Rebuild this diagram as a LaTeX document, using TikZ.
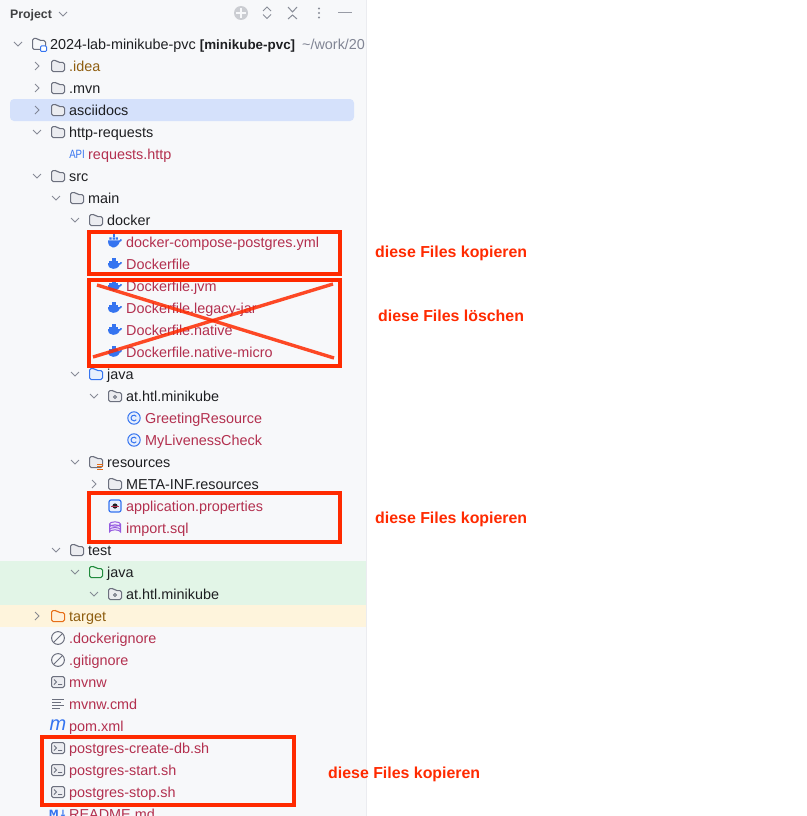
\documentclass[tikz,border=0pt]{standalone}
\usepackage{fontspec}
\setmainfont{Liberation Sans}
\newfontfamily\symfont{DejaVu Sans}
\usetikzlibrary{positioning}
\definecolor{panelbg}{HTML}{F7F8FA}
\definecolor{panelline}{HTML}{EBECF0}
\definecolor{selectbg}{HTML}{D5E1FB}
\definecolor{testbg}{HTML}{E2F5E7}
\definecolor{targetbg}{HTML}{FEF4DC}
\definecolor{plaintext}{HTML}{1E1F22}
\definecolor{filetext}{HTML}{B3304F}
\definecolor{ignoredtext}{HTML}{8F5E10}
\definecolor{dimtext}{HTML}{818594}
\definecolor{iconline}{HTML}{6C707E}
\definecolor{iconfill}{HTML}{EBECF0}
\definecolor{iconblue}{HTML}{3574F0}
\definecolor{iconbluefill}{HTML}{E7EFFD}
\definecolor{icongreen}{HTML}{208A3C}
\definecolor{icongreenfill}{HTML}{E6F7E9}
\definecolor{iconorange}{HTML}{E66D17}
\definecolor{iconorangefill}{HTML}{FFF0DA}
\definecolor{iconpurple}{HTML}{955AE0}
\definecolor{markred}{HTML}{FF2A00}
\tikzset{
    dirname/.style={anchor=west, inner sep=0pt, text height=9.5pt, text depth=3pt, yshift=-2.1pt,
        text=plaintext, font=\fontsize{14.4}{16}\selectfont},
    filename/.style={dirname, text=filetext},
    ignoredname/.style={dirname, text=ignoredtext},
    marklabel/.style={anchor=west, inner sep=0pt, yshift=-2pt, text=markred,
        font=\fontsize{15.9}{17}\selectfont\bfseries},
    markbox/.style={draw=markred, line width=3.6pt, inner sep=0pt},
    crossline/.style={draw=markred, line width=3.4pt, opacity=.85},
    pics/chevdown/.style={code={
        \draw[iconline, line width=.9pt, opacity=.8] (-4,-2) -- (0,2) -- (4,-2);
    }},
    pics/chevright/.style={code={
        \draw[iconline, line width=.9pt, opacity=.8] (-2,-4) -- (2,0) -- (-2,4);
    }},
    pics/folder/.style n args={2}{code={
        \draw[#1, fill=#2, line width=1pt, rounded corners=1.6pt]
            (-6.5,-5.5) -- (-1.5,-5.5) -- (.5,-3.5) -- (6.5,-3.5) -- (6.5,5.5) -- (-6.5,5.5) -- cycle;
    }},
    pics/package/.style={code={
        \draw[iconline, fill=iconfill, line width=1pt, rounded corners=1.6pt]
            (-6.5,-5.5) -- (-1.5,-5.5) -- (.5,-3.5) -- (6.5,-3.5) -- (6.5,5.5) -- (-6.5,5.5) -- cycle;
        \draw[iconline, line width=.9pt] (0,1) circle (1.5);
    }},
    pics/whale/.style={code={
        \fill[iconblue] (-7,-.8) -- (4.6,-.8) .. controls (5,-2.4) and (6,-2.4) .. (7,-1.4)
            .. controls (6.6,.2) and (5.6,.6) .. (4.8,.6)
            .. controls (3.4,4.4) and (-.5,4.8) .. (-2,4.8)
            .. controls (-5,4.8) and (-7,3) .. (-7,-.8) -- cycle;
        \fill[iconblue] (-3.4,-5.6) rectangle (1,-1.4);
        \fill[iconblue] (-5.6,-3.2) rectangle (2.6,-1.4);
    }},
    pics/composewhale/.style={code={
        \fill[iconblue] (-7,-1.6) -- (4.6,-1.6) .. controls (5,-3.2) and (6,-3.2) .. (7,-2.2)
            .. controls (6.6,-.6) and (5.6,-.2) .. (4.8,-.2)
            .. controls (3.4,4.4) and (-.5,5.5) .. (-2,5.5)
            .. controls (-5,5.5) and (-7,3) .. (-7,-1.6) -- cycle;
        \fill[iconblue] (-5.6,-4.6) rectangle (-3.3,-2.3) (-2.5,-4.6) rectangle (-.2,-2.3) (.6,-4.6) rectangle (2.9,-2.3);
        \fill[iconblue] (-2.5,-8) rectangle (-.2,-5.4);
    }},
    pics/classicon/.style={code={
        \draw[iconblue, fill=iconbluefill, line width=1pt] (0,0) circle (6.2);
        \draw[iconblue, line width=1pt] (2.3,-1.6) arc (-35:-325:2.9);
    }},
    pics/ignoreicon/.style={code={
        \draw[iconline, line width=1pt] (0,0) circle (6.4);
        \draw[iconline, line width=1pt] (-4.4,4.4) -- (4.4,-4.4);
    }},
    pics/shellicon/.style={code={
        \draw[iconline, fill=iconfill, line width=1pt, rounded corners=1.6pt] (-6.5,-5.5) rectangle (6.5,5.5);
        \draw[iconline, line width=.9pt] (-4,-2.5) -- (-1.5,0) -- (-4,2.5) (0,2.5) -- (4,2.5);
    }},
    pics/linesicon/.style={code={
        \draw[iconline, line width=1pt] (-6,-4.5) -- (6,-4.5) (-6,-1.5) -- (3,-1.5) (-6,1.5) -- (6,1.5) (-6,4.5) -- (2,4.5);
    }},
    pics/propsicon/.style={code={
        \draw[iconblue, fill=iconbluefill, line width=1.2pt, rounded corners=2pt] (-6,-6) rectangle (6,6);
        \fill[plaintext] (0,0) circle (2.6);
        \fill[filetext] (-3.6,-.4) rectangle (3.6,.4);
    }},
    pics/sqlicon/.style={code={
        \draw[iconpurple, fill=iconpurple!10, line width=1pt] (-5.5,-4) -- (-5.5,4) arc (180:360:5.5 and 2.2) -- (5.5,-4);
        \draw[iconpurple, fill=iconpurple!10, line width=1pt] (0,-4) ellipse (5.5 and 2.2);
        \draw[iconpurple, line width=1pt] (-5.5,-1) arc (180:360:5.5 and 2.2) (-5.5,1.7) arc (180:360:5.5 and 2.2);
    }}
}
\begin{document}
\begin{tikzpicture}[x=1pt, y=-1pt]
\clip (0,0) rectangle (806,816);
\fill[white] (0,0) rectangle (806,816);
% tool window
\fill[panelbg] (0,0) rectangle (366,816);
\draw[panelline, line width=1pt] (366.5,0) -- (366.5,816);
\fill[selectbg, rounded corners=4pt] (10,99) rectangle (354,121);
\fill[testbg] (0,561) rectangle (366,605);
\fill[targetbg] (0,605) rectangle (366,627);
% header
\node[dirname, font=\fontsize{12.3}{14}\selectfont\bfseries, text=plaintext!85, yshift=.6pt] (project) at (10,14) {Project};
\pic at (63,14) {chevdown};
\fill[iconline!35] (241,13) circle (7);
\draw[panelbg, line width=1.6pt] (241,8) -- (241,18) (236,13) -- (246,13);
\draw[iconline!80, line width=1pt] (263,11) -- (267,7) -- (271,11) (263,14.5) -- (267,18.5) -- (271,14.5);
\draw[iconline!80, line width=1pt] (288,7) -- (292.5,12) -- (297,7) (288,19) -- (292.5,15) -- (297,19);
\fill[iconline!80] (319,8.5) circle (1.1) (319,13) circle (1.1) (319,17.5) circle (1.1);
\draw[iconline!70, line width=1pt] (338,13) -- (352,13);
% top level
\pic at (18,44) {chevdown};
\pic at (39,44) {folder={iconline}{panelbg}};
\draw[iconblue, fill=white, line width=1pt, rounded corners=1pt] (40.5,46) rectangle (46.5,51.5);
\node[dirname] (root) at (50,44) {2024-lab-minikube-pvc {\fontsize{13.4}{16}\selectfont\bfseries [minikube-pvc]}\hspace{7pt}\textcolor{dimtext}{\textasciitilde/work/20}};
\pic at (37,66) {chevright};
\pic at (58,66) {folder={iconline}{iconfill}};
\node[ignoredname] (idea) at (69,66) {.idea};
\pic at (37,88) {chevright};
\pic at (58,88) {folder={iconline}{iconfill}};
\node[dirname] (mvn) at (69,88) {.mvn};
\pic at (37,110) {chevright};
\pic at (58,110) {folder={iconline}{iconfill}};
\node[dirname] (asciidocs) at (69,110) {asciidocs};
\pic at (37,132) {chevdown};
\pic at (58,132) {folder={iconline}{iconfill}};
\node[dirname] (httprequests) at (69,132) {http-requests};
\node[anchor=center, inner sep=0pt, text=iconblue, font=\fontsize{12}{12}\selectfont, xscale=.8] (apiicon) at (77,154.5) {API};
\node[filename] (requests) at (88,154) {requests.http};
\pic at (37,176) {chevdown};
\pic at (58,176) {folder={iconline}{iconfill}};
\node[dirname] (src) at (69,176) {src};
\pic at (56,198) {chevdown};
\pic at (77,198) {folder={iconline}{iconfill}};
\node[dirname] (main) at (88,198) {main};
% docker
\pic at (75,220) {chevdown};
\pic at (96,220) {folder={iconline}{iconfill}};
\node[dirname] (docker) at (107,220) {docker};
\pic at (115,242) {composewhale};
\node[filename] (compose) at (126,242) {docker-compose-postgres.yml};
\pic at (115,264) {whale};
\node[filename] (dockerfile) at (126,264) {Dockerfile};
\pic at (115,286) {whale};
\node[filename] (dockerjvm) at (126,286) {Dockerfile.jvm};
\pic at (115,308) {whale};
\node[filename] (dockerlegacy) at (126,308) {Dockerfile.legacy-jar};
\pic at (115,330) {whale};
\node[filename] (dockernative) at (126,330) {Dockerfile.native};
\pic at (115,352) {whale};
\node[filename] (dockermicro) at (126,352) {Dockerfile.native-micro};
% java
\pic at (75,374) {chevdown};
\pic at (96,374) {folder={iconblue}{iconbluefill}};
\node[dirname] (java) at (107,374) {java};
\pic at (94,396) {chevdown};
\pic at (115,396) {package};
\node[dirname] (minikube) at (126,396) {at.htl.minikube};
\pic at (134,418) {classicon};
\node[filename] (greeting) at (145,418) {GreetingResource};
\pic at (134,440) {classicon};
\node[filename] (liveness) at (145,440) {MyLivenessCheck};
% resources
\pic at (75,462) {chevdown};
\pic at (96,462) {folder={iconline}{iconfill}};
\draw[iconorange, line width=1pt] (97,464.5) -- (103,464.5) (97,466.8) -- (103,466.8) (97,469) -- (103,469);
\node[dirname] (resources) at (107,462) {resources};
\pic at (94,484) {chevright};
\pic at (115,484) {folder={iconline}{iconfill}};
\node[dirname] (metainf) at (126,484) {META-INF.resources};
\pic at (115,506) {propsicon};
\node[filename] (appprops) at (126,506) {application.properties};
\pic at (115,528) {sqlicon};
\node[filename] (importsql) at (126,528) {import.sql};
% test
\pic at (56,550) {chevdown};
\pic at (77,550) {folder={iconline}{iconfill}};
\node[dirname] (test) at (88,550) {test};
\pic at (75,572) {chevdown};
\pic at (96,572) {folder={icongreen}{icongreenfill}};
\node[dirname] (testjava) at (107,572) {java};
\pic at (94,594) {chevdown};
\pic at (115,594) {package};
\node[dirname] (testminikube) at (126,594) {at.htl.minikube};
% project files
\pic at (37,616) {chevright};
\pic at (58,616) {folder={iconorange}{iconorangefill}};
\node[ignoredname] (target) at (69,616) {target};
\pic at (58,638) {ignoreicon};
\node[filename] (dockerignore) at (69,638) {.dockerignore};
\pic at (58,660) {ignoreicon};
\node[filename] (gitignore) at (69,660) {.gitignore};
\pic at (58,682) {shellicon};
\node[filename] (mvnw) at (69,682) {mvnw};
\pic at (58,704) {linesicon};
\node[filename] (mvnwcmd) at (69,704) {mvnw.cmd};
\node[inner sep=0pt, text=iconblue, font=\fontsize{20}{20}\selectfont\itshape] (pomicon) at (58,725) {m};
\node[filename] (pom) at (69,726) {pom.xml};
\pic at (58,748) {shellicon};
\node[filename] (createdb) at (69,748) {postgres-create-db.sh};
\pic at (58,770) {shellicon};
\node[filename] (startsh) at (69,770) {postgres-start.sh};
\pic at (58,792) {shellicon};
\node[filename] (stopsh) at (69,792) {postgres-stop.sh};
\node[inner sep=0pt, text=iconblue, font=\fontsize{10}{10}\symfont\bfseries] (readmeicon) at (58,814) {M↓};
\node[filename] (readme) at (69,814) {README.md};
% red marks
\node[markbox, minimum width=251pt, minimum height=42pt] (keepdocker) at (214.5,253) {};
\node[markbox, minimum width=251pt, minimum height=86pt] (dropdocker) at (214.5,323) {};
\node[markbox, minimum width=251pt, minimum height=49pt] (keepres) at (214.5,517.5) {};
\node[markbox, minimum width=252pt, minimum height=68pt] (keepscripts) at (168,771) {};
\coordinate (crossnw) at (97,285);
\coordinate (crossse) at (334,358);
\coordinate (crosssw) at (93,357);
\coordinate (crossne) at (333,284);
\draw[crossline] (crossnw) -- (crossse);
\draw[crossline] (crosssw) -- (crossne);
\node[marklabel] (labelkeepdocker) at (375,251) {diese Files kopieren};
\node[marklabel] (labeldropdocker) at (378,313.5) {diese Files löschen};
\node[marklabel] (labelkeepres) at (375,517) {diese Files kopieren};
\node[marklabel] (labelkeepscripts) at (328,772) {diese Files kopieren};
\end{tikzpicture}
\end{document}
